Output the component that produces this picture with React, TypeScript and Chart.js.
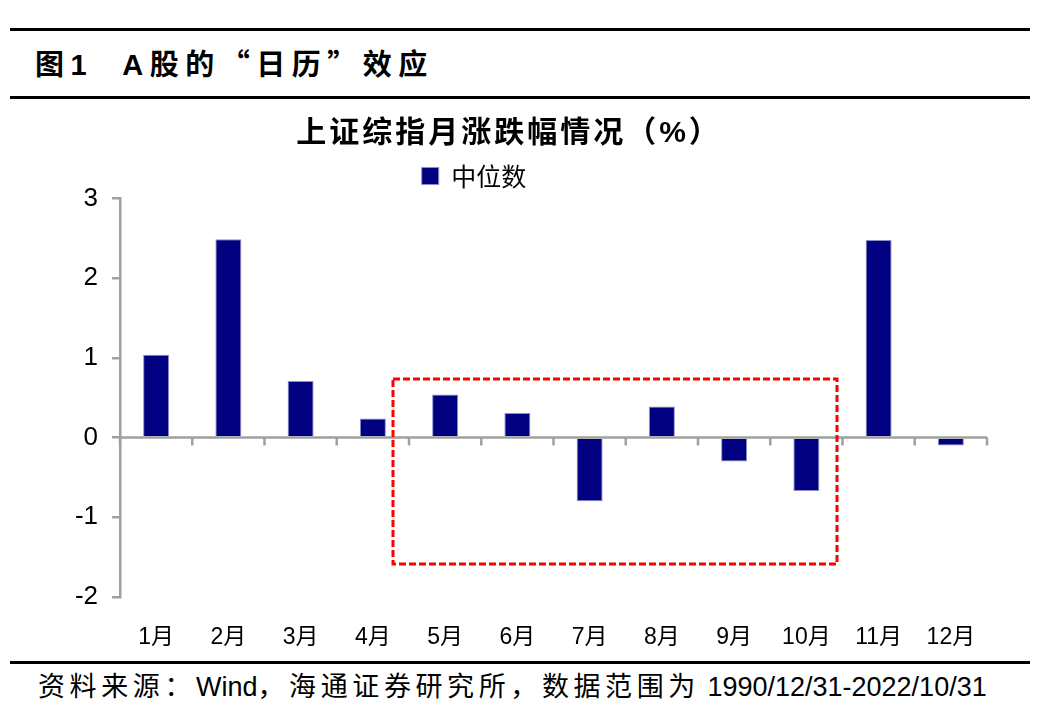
import React, { useEffect, useRef } from "react";
import { Chart, registerables } from "chart.js";

Chart.register(...registerables);

// ---- data ----
const months = ["1月", "2月", "3月", "4月", "5月", "6月", "7月", "8月", "9月", "10月", "11月", "12月"];
const medianChange = [1.04, 2.49, 0.71, 0.24, 0.54, 0.31, -0.8, 0.39, -0.3, -0.67, 2.48, -0.1];
const yTickValues = [-2, -1, 0, 1, 2, 3];
const seriesLabel = "中位数";
const chartTitle = "上证综指月涨跌幅情况（%）";
// highlighted region (category index range, value range)
const highlightCategoryRange = [3.28, 9.43];
const highlightValueRange = [-1.59, 0.74];

const FONT = '"Liberation Sans", "Noto Sans CJK SC", sans-serif';
const CJK = '"Noto Sans CJK SC", "Liberation Sans", sans-serif';
const AXIS_GREY = "#a0a0a0";

const zeroAxisPlugin = {
  id: "zeroAxis",
  afterDatasetsDraw(chart: any) {
    const { ctx, chartArea, scales } = chart;
    const x = scales.x;
    const y = scales.y;
    const y0 = y.getPixelForValue(0);
    ctx.save();
    ctx.strokeStyle = AXIS_GREY;
    ctx.lineWidth = 2.5;
    ctx.beginPath();
    ctx.moveTo(chartArea.left, y0);
    ctx.lineTo(chartArea.right, y0);
    for (let i = 0; i <= months.length; i++) {
      const px = x.getPixelForValue(i - 0.5);
      ctx.moveTo(px, y0);
      ctx.lineTo(px, y0 + 8);
    }
    ctx.stroke();
    ctx.restore();
  },
};

const highlightPlugin = {
  id: "highlightBox",
  afterDatasetsDraw(chart: any) {
    const { ctx, scales } = chart;
    const x1 = Math.round(scales.x.getPixelForValue(highlightCategoryRange[0]));
    const x2 = Math.round(scales.x.getPixelForValue(highlightCategoryRange[1]));
    const y1 = Math.round(scales.y.getPixelForValue(highlightValueRange[1]));
    const y2 = Math.round(scales.y.getPixelForValue(highlightValueRange[0]));
    ctx.save();
    ctx.strokeStyle = "#ff0000";
    ctx.lineWidth = 3;
    ctx.setLineDash([7, 3]);
    ctx.strokeRect(x1, y1, x2 - x1, y2 - y1);
    ctx.restore();
  },
};

const centerPlugin = {
  id: "centerBlocks",
  afterLayout(chart: any) {
    const shift = (box: any, center: number) => {
      if (!box) return;
      const dx = center - (box.left + box.right) / 2;
      box.left += dx;
      box.right += dx;
    };
    shift(chart.titleBlock, 509);
    shift(chart.legend, 474);
    const tb = chart.titleBlock;
    if (tb && !tb.__spaced) {
      const orig = tb.draw.bind(tb);
      tb.draw = (area: any) => {
        const c = tb.ctx;
        const prev = c.letterSpacing;
        c.letterSpacing = "3px";
        orig(area);
        c.letterSpacing = prev || "0px";
      };
      tb.__spaced = true;
    }
  },
};

function BarChart() {
  const ref = useRef<HTMLCanvasElement | null>(null);
  useEffect(() => {
    if (!ref.current) return;
    const chart = new Chart(ref.current, {
      type: "bar",
      data: {
        labels: months,
        datasets: [
          {
            label: seriesLabel,
            data: medianChange,
            backgroundColor: "#000080",
            borderColor: "#8c8cc8",
            borderWidth: 1,
            barPercentage: 0.36,
            categoryPercentage: 1,
          },
        ],
      },
      options: {
        animation: false,
        responsive: false,
        maintainAspectRatio: false,
        devicePixelRatio: 1,
        layout: { padding: { left: 0, right: 50, top: 0, bottom: 0 } },
        plugins: {
          title: {
            display: true,
            text: chartTitle,
            color: "#000",
            font: { size: 30, weight: "bold", family: FONT, lineHeight: 1.2 },
            padding: { top: 16, bottom: 2.5 },
          },
          legend: {
            display: true,
            position: "top",
            labels: {
              boxWidth: 17,
              boxHeight: 17,
              color: "#000",
              font: { size: 25, family: CJK },
              padding: 9,
            },
          },
          tooltip: { enabled: false },
        },
        scales: {
          x: {
            grid: { display: false },
            border: { display: false },
            ticks: {
              color: "#000",
              font: { size: 23, family: FONT },
              padding: 19,
              maxRotation: 0,
              autoSkip: false,
            },
            afterFit: (s: any) => {
              s.height = 63;
            },
          },
          y: {
            min: -2,
            max: 3,
            afterBuildTicks: (s: any) => {
              s.ticks = yTickValues.map((v) => ({ value: v }));
            },
            ticks: {
              color: "#000",
              font: { size: 26, family: FONT },
              padding: 14,
            },
            grid: {
              drawOnChartArea: false,
              drawTicks: true,
              tickLength: 8,
              color: AXIS_GREY,
              lineWidth: 2.5,
            },
            border: { display: true, color: AXIS_GREY, width: 2.5 },
            afterFit: (s: any) => {
              s.width = 120;
            },
          },
        },
      },
      plugins: [zeroAxisPlugin, highlightPlugin, centerPlugin],
    } as any);
    return () => chart.destroy();
  }, []);
  return <canvas ref={ref} width={1037} height={560} style={{ display: "block", width: 1037, height: 560 }} />;
}

export default function App() {
  const line = (top: number) => (
    <div style={{ position: "absolute", left: 10, width: 1020, top, height: 3, background: "#000" }} />
  );
  return (
    <div style={{ position: "relative", width: 1037, height: 727, background: "#fff" }}>
      <div style={{ position: "fixed", left: 0, top: 0, width: 1037, height: 727, background: "#fff" }}>
        {line(28)}
        <div
          style={{
            position: "absolute",
            left: 35,
            top: 48,
            fontFamily: FONT,
            fontWeight: "bold",
            fontSize: 29,
            lineHeight: "29px",
            letterSpacing: "6.5px",
            whiteSpace: "nowrap",
            color: "#000",
          }}
        >
          图1{"\u00a0\u00a0"}A股的<span style={{ fontFamily: CJK }}>“</span>日历<span style={{ fontFamily: CJK }}>”</span>效应
        </div>
        {line(96)}
        <div style={{ position: "absolute", left: 0, top: 100, width: 1037, height: 560 }}>
          <BarChart />
        </div>
        {line(661)}
        <div
          style={{
            position: "absolute",
            left: 38,
            top: 674,
            fontFamily: FONT,
            fontSize: 27,
            lineHeight: "27px",
            whiteSpace: "nowrap",
            color: "#000",
          }}
        >
          <span style={{ letterSpacing: "4.6px" }}>资料来源：</span>Wind<span style={{ letterSpacing: "4.6px" }}>，海通证券研究所，数据范围为</span> 1990/12/31-2022/10/31
        </div>
      </div>
    </div>
  );
}
